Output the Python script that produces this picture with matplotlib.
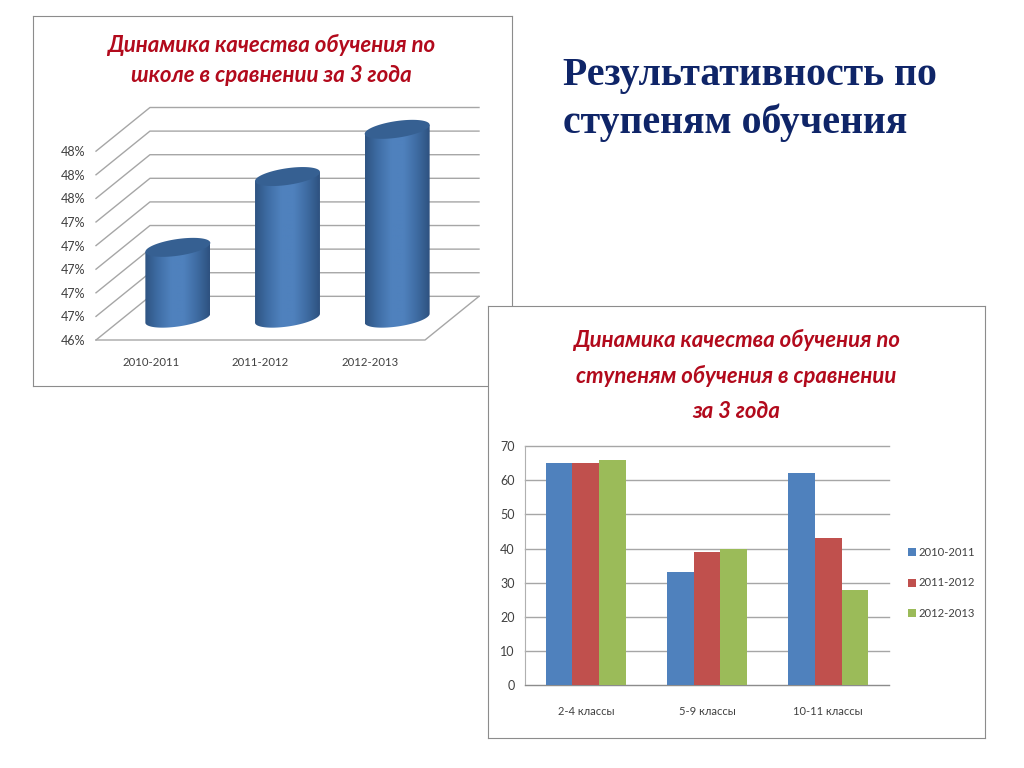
import numpy as np
import matplotlib
matplotlib.use('Agg')
import matplotlib.pyplot as plt
from matplotlib.colors import LinearSegmentedColormap
from matplotlib.patches import Patch, Polygon
from matplotlib.ticker import FormatStrFormatter

# left chart: school quality by year
years = ['2010-2011', '2011-2012', '2012-2013']
school_quality = [47.0, 47.6, 48.0]
school_ticks = [46.4, 46.6, 46.8, 47.0, 47.2, 47.4, 47.6, 47.8, 48.0]

# right chart: quality by school stage
stages = ['2-4 классы', '5-9 классы', '10-11 классы']
quality_2010 = [65, 33, 62]
quality_2011 = [65, 39, 43]
quality_2012 = [66, 40, 28]
stage_ticks = [0, 10, 20, 30, 40, 50, 60, 70]

page_title = ['Результативность по', 'ступеням обучения']
school_title = 'Динамика качества обучения по\nшколе в сравнении за 3 года'
stage_title = 'Динамика качества обучения по\nступеням обучения в сравнении\nза 3 года'

W, H = 1024, 768
FONT = ['Lato', 'Open Sans', 'DejaVu Sans']
plt.rcParams['font.family'] = FONT
FRAME = '#8c8c8c'
GRID = '#a6a6a6'
TEXT = '#404040'
RED = '#b20a1c'


def px_axes(left, top, right, bottom, **kw):
    # axes placed by pixel box, y measured from the top of the page
    return fig.add_axes([left / W, 1 - bottom / H, (right - left) / W, (bottom - top) / H], **kw)


def panel(left, top, right, bottom):
    a = px_axes(left, top, right, bottom)
    a.set_xticks([])
    a.set_yticks([])
    for s in a.spines.values():
        s.set_color(FRAME)
        s.set_linewidth(0.8)
    return a


fig = plt.figure(figsize=(W / 100, H / 100), dpi=100, facecolor='white')

fig.text(563 / W, 1 - 76 / H, page_title[0], family='Liberation Serif', weight='bold',
         fontsize=28.7, color='#0f2568', va='center')
fig.text(563 / W, 1 - 123 / H, page_title[1], family='Liberation Serif', weight='bold',
         fontsize=28.7, color='#0f2568', va='center')

# ---- left chart ----
p1 = panel(33, 16, 512, 386)
p1.text(0.497, 0.881, school_title, transform=p1.transAxes, ha='center', va='center', color=RED,
        fontsize=16, weight='bold', style='italic', linespacing=1.52)

ax1 = px_axes(96, 107.5, 479, 340)
ax1.patch.set_alpha(0)
depth_x, depth_y = 0.492, 0.37
ax1.set_xlim(0, 3 + depth_x)
ax1.set_ylim(46.4, 48 + depth_y)

for v in school_ticks:
    ax1.plot([0, depth_x, 3 + depth_x], [v, v + depth_y, v + depth_y], color=GRID, lw=1.0, zorder=1, clip_on=False)
ax1.plot([0, 3, 3 + depth_x], [46.4, 46.4, 46.4 + depth_y], color=GRID, lw=1.0, zorder=1, clip_on=False)

shade = LinearSegmentedColormap.from_list('cyl', ['#2f5583', '#3f6ea6', '#4f81bd', '#4f81bd', '#3f6ca3', '#2e5280'])
half_w, half_h, tilt = 0.296, 0.071, 0.128
t = np.linspace(0, 2 * np.pi, 121)
for i, v in enumerate(school_quality):
    cx = i + 0.5 + depth_x / 2
    y0 = 46.4 + depth_y / 2
    y1 = y0 + v - 46.4
    ex = half_w * np.cos(t)
    ey = half_h * np.sin(t) + tilt * ex
    low = t[60:121]
    lx = half_w * np.cos(low)
    ly = half_h * np.sin(low) + tilt * lx
    # body outline: lower half of the base ellipse, then straight up and back over the top
    bx = np.r_[cx + lx, cx + half_w, cx - half_w]
    by = np.r_[y0 + ly, y1 + tilt * half_w, y1 - tilt * half_w]
    body = Polygon(np.c_[bx, by], closed=True, transform=ax1.transData, fc='none', ec='none')
    ax1.add_patch(body)
    im = ax1.imshow(np.linspace(0, 1, 64)[None, :], cmap=shade, aspect='auto', zorder=3,
                    extent=[cx - half_w, cx + half_w, 46.4, 48 + depth_y], interpolation='bilinear')
    im.set_clip_path(body)
    ax1.fill(cx + ex, y1 + ey, color='#366092', lw=0, zorder=4)

ax1.set_xlim(0, 3 + depth_x)
ax1.set_ylim(46.4, 48 + depth_y)
ax1.set_xticks([0.5, 1.5, 2.5], years)
ax1.set_yticks(school_ticks)
ax1.yaxis.set_major_formatter(FormatStrFormatter('%.0f%%'))
ax1.tick_params(length=0, labelsize=8.2, labelcolor=TEXT)
ax1.tick_params(axis='y', pad=8, labelsize=9)
ax1.tick_params(axis='x', pad=12)
for s in ax1.spines.values():
    s.set_visible(False)

# ---- right chart ----
p2 = panel(488, 306, 985, 738)
p2.text(0.4995, 0.8395, stage_title, transform=p2.transAxes, ha='center', va='center', color=RED,
        fontsize=15.9, weight='bold', style='italic', linespacing=1.78)

ax2 = px_axes(525.3, 446, 888.7, 685.3)
ax2.patch.set_alpha(0)
pos = np.arange(len(stages))
bar_w = 0.221
series = [(quality_2010, '#4f81bd'), (quality_2011, '#c0504d'), (quality_2012, '#9bbb59')]
for k, ((vals, col), yr) in enumerate(zip(series, years)):
    ax2.bar(pos + (k - 1) * bar_w, vals, bar_w, color=col, label=yr, zorder=3)
ax2.set_xlim(-0.5, 2.5)
ax2.set_ylim(0, 70)
ax2.set_xticks(pos, stages)
ax2.set_yticks(stage_ticks)
ax2.grid(axis='y', color=GRID, lw=1.0, zorder=0)
for g in ax2.get_ygridlines():
    g.set_clip_on(False)
ax2.set_axisbelow(True)
ax2.tick_params(length=0, labelsize=8, labelcolor=TEXT)
ax2.tick_params(axis='y', pad=7.5, labelsize=9)
ax2.tick_params(axis='x', pad=15)
for name in ['top', 'right']:
    ax2.spines[name].set_visible(False)
ax2.spines['left'].set_color('#b0b0b0')
ax2.spines['bottom'].set_color(FRAME)
handles = [Patch(facecolor=c, linewidth=0, label=y) for (_, c), y in zip(series, years)]
ax2.legend(handles=handles, loc='center left', bbox_to_anchor=(1.053, 0.4275), frameon=False, fontsize=8.1,
           labelcolor=TEXT, handlelength=0.72, handleheight=0.72, handletextpad=0.25, labelspacing=1.7,
           borderpad=0, borderaxespad=0)

fig.savefig('out.png', dpi=100)
